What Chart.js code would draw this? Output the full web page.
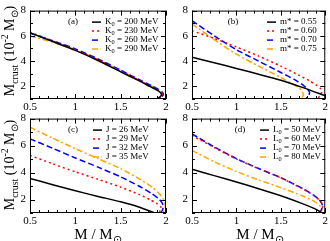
<!DOCTYPE html>
<html>
<head>
<meta charset="utf-8">
<script src="https://cdn.jsdelivr.net/npm/chart.js@4"></script>
<style>
  html, body { margin: 0; padding: 0; background: #fff; }
  #wrap { position: relative; width: 330px; height: 241px; overflow: hidden; font-family: "Liberation Serif", serif; color: #000; }
  canvas { position: absolute; }
  .ytitle { position: absolute; font-size: 14px; line-height: 14px; white-space: nowrap; transform: translate(-50%, -50%) rotate(-90deg); }
  .xtitle { position: absolute; font-size: 15px; line-height: 15px; white-space: nowrap; transform: translateX(-50%); }
  sub, sup { font-size: 70%; line-height: 0; }
</style>
</head>
<body>
<div id="wrap">
  <canvas id="pa" width="172" height="118" style="left:0;top:0"></canvas>
  <canvas id="pb" width="158" height="118" style="left:172px;top:0"></canvas>
  <canvas id="pc" width="172" height="133" style="left:0;top:108px"></canvas>
  <canvas id="pd" width="158" height="133" style="left:172px;top:108px"></canvas>
  <div class="ytitle" style="left:10px;top:51px">M<sub>crust</sub> (10<sup>-2</sup> M<sub>&#8857;</sub>)</div>
  <div class="ytitle" style="left:10px;top:165px">M<sub>crust</sub> (10<sup>-2</sup> M<sub>&#8857;</sub>)</div>
  <div class="xtitle" style="left:98px;top:227px">M / M<sub>&#8857;</sub></div>
  <div class="xtitle" style="left:260px;top:227px">M / M<sub>&#8857;</sub></div>
</div>
<script>
// axis ticks
const xTicks = [0.5, 1, 1.5, 2];
const yTicks = [2, 4, 6, 8];

// (a) incompressibility K0
const kLabels = ['K_0 = 200 MeV', 'K_0 = 230 MeV', 'K_0 = 260 MeV', 'K_0 = 290 MeV'];
const massK200 = [0.5, 0.75, 1.0, 1.25, 1.5, 1.7, 1.82, 1.9, 1.94, 1.95, 1.93, 1.89];
const crustK200 = [6.25, 5.55, 4.85, 4.05, 3.15, 2.45, 2.0, 1.7, 1.5, 1.32, 1.15, 1.0];
const massK230 = [0.5, 0.75, 1.0, 1.25, 1.5, 1.7, 1.83, 1.91, 1.95, 1.96, 1.94, 1.9];
const crustK230 = [6.3, 5.6, 4.9, 4.1, 3.2, 2.5, 2.02, 1.72, 1.52, 1.34, 1.16, 1.0];
const massK260 = [0.5, 0.75, 1.0, 1.25, 1.5, 1.7, 1.84, 1.92, 1.96, 1.97, 1.95, 1.91];
const crustK260 = [6.2, 5.62, 4.97, 4.17, 3.28, 2.55, 2.05, 1.74, 1.53, 1.35, 1.16, 1.0];
const massK290 = [0.5, 0.75, 1.0, 1.25, 1.5, 1.7, 1.84, 1.92, 1.96, 1.97, 1.95, 1.9];
const crustK290 = [6.0, 5.5, 4.9, 4.12, 3.25, 2.52, 2.02, 1.72, 1.5, 1.33, 1.15, 1.0];

// (b) effective mass m*
const mLabels = ['m* = 0.55', 'm* = 0.60', 'm* = 0.70', 'm* = 0.75'];
const massM055 = [0.5, 0.75, 1.0, 1.25, 1.5, 1.75, 2.0];
const crustM055 = [4.3, 3.87, 3.42, 2.96, 2.48, 1.9, 1.25];
const massM060 = [0.5, 0.75, 1.0, 1.25, 1.5, 1.7, 1.82, 1.9, 1.95, 1.96, 1.94, 1.91];
const crustM060 = [6.4, 5.8, 5.12, 4.4, 3.6, 2.9, 2.45, 2.1, 1.8, 1.55, 1.25, 1.0];
const massM070 = [0.5, 0.75, 1.0, 1.25, 1.5, 1.65, 1.74, 1.79, 1.82, 1.82, 1.8, 1.78];
const crustM070 = [7.2, 6.0, 4.9, 4.0, 3.1, 2.55, 2.15, 1.85, 1.6, 1.4, 1.18, 1.0];
const massM075 = [0.5, 0.75, 1.0, 1.25, 1.5, 1.62, 1.69, 1.73, 1.75, 1.75, 1.73];
const crustM075 = [6.95, 5.7, 4.55, 3.6, 2.7, 2.25, 1.95, 1.7, 1.45, 1.25, 1.0];

// (c) symmetry energy J
const jLabels = ['J = 26 MeV', 'J = 29 MeV', 'J = 32 MeV', 'J = 35 MeV'];
const massJ26 = [0.5, 0.75, 1.0, 1.25, 1.5, 1.7, 1.87];
const crustJ26 = [3.56, 3.1, 2.65, 2.23, 1.83, 1.45, 1.02];
const massJ29 = [0.5, 0.75, 1.0, 1.25, 1.5, 1.7, 1.82, 1.9, 1.94, 1.95, 1.93, 1.9];
const crustJ29 = [5.27, 4.65, 4.05, 3.5, 2.92, 2.38, 2.0, 1.7, 1.48, 1.3, 1.12, 1.0];
const massJ32 = [0.5, 0.75, 1.0, 1.25, 1.5, 1.7, 1.84, 1.92, 1.96, 1.97, 1.96, 1.94];
const crustJ32 = [6.5, 5.8, 5.08, 4.4, 3.68, 3.0, 2.45, 2.05, 1.72, 1.45, 1.2, 1.0];
const massJ35 = [0.5, 0.75, 1.0, 1.25, 1.5, 1.7, 1.85, 1.93, 1.97, 1.99, 1.99, 1.97];
const crustJ35 = [7.36, 6.55, 5.77, 5.03, 4.29, 3.55, 2.9, 2.4, 2.0, 1.7, 1.35, 1.05];

// (d) slope L0
const lLabels = ['L_0 = 50 MeV', 'L_0 = 60 MeV', 'L_0 = 70 MeV', 'L_0 = 80 MeV'];
const massL50 = [0.5, 0.75, 1.0, 1.25, 1.5, 1.75, 1.88, 1.94, 1.95];
const crustL50 = [4.24, 3.77, 3.3, 2.8, 2.28, 1.68, 1.32, 1.1, 1.0];
const massL60 = [0.5, 0.75, 1.0, 1.25, 1.5, 1.75, 1.87, 1.93, 1.96, 1.97, 1.95, 1.93];
const crustL60 = [6.75, 5.85, 5.0, 4.28, 3.6, 2.78, 2.3, 1.98, 1.72, 1.45, 1.18, 1.0];
const massL70 = [0.5, 0.75, 1.0, 1.25, 1.5, 1.75, 1.87, 1.93, 1.96, 1.97, 1.95, 1.93];
const crustL70 = [6.86, 5.9, 5.03, 4.3, 3.62, 2.8, 2.32, 2.0, 1.73, 1.46, 1.18, 1.0];
const massL80 = [0.5, 0.75, 1.0, 1.25, 1.5, 1.75, 1.88, 1.94, 1.96, 1.96, 1.95];
const crustL80 = [5.64, 4.8, 4.08, 3.45, 2.88, 2.25, 1.85, 1.55, 1.35, 1.18, 1.0];

(function () {
    // line styles shared by all panels: solid, dotted, dashed, dash-dot
    const styles = [
        { color: '#000000', dash: [] },
        { color: '#ff0000', dash: [2, 3] },
        { color: '#0000ff', dash: [6, 3] },
        { color: '#ffa500', dash: [6, 2.5, 2, 2.5] }
    ];
    const serif = '"Liberation Serif", "Times New Roman", serif';

    function pts(xs, ys) {
        return xs.map((x, i) => ({ x, y: ys[i] }));
    }

    // text with "_c" subscripts
    function drawRich(ctx, text, x, y, size) {
        const parts = text.split('_');
        ctx.font = size + 'px ' + serif;
        ctx.fillText(parts[0], x, y);
        x += ctx.measureText(parts[0]).width;
        for (let i = 1; i < parts.length; i++) {
            const sub = parts[i].charAt(0), rest = parts[i].slice(1);
            ctx.font = (size * 0.7) + 'px ' + serif;
            ctx.fillText(sub, x, y + size * 0.3);
            x += ctx.measureText(sub).width;
            ctx.font = size + 'px ' + serif;
            ctx.fillText(rest, x, y);
            x += ctx.measureText(rest).width;
        }
    }

    // frame, inward ticks, panel tag and legend
    const framePlugin = {
        id: 'frame',
        afterDraw(chart, args, opts) {
            const ctx = chart.ctx, a = chart.chartArea;
            const xs = chart.scales.x, ys = chart.scales.y;
            ctx.save();
            ctx.strokeStyle = '#000';
            ctx.lineWidth = 1;
            ctx.setLineDash([]);
            ctx.strokeRect(a.left + 0.5, a.top + 0.5, a.right - a.left - 1, a.bottom - a.top - 1);
            ctx.beginPath();
            for (let i = 0; i <= 15; i++) {
                const v = 0.5 + i * 0.1;
                const px = Math.round(xs.getPixelForValue(v)) + 0.5;
                const len = i % 5 === 0 ? 5 : 3;
                ctx.moveTo(px, a.bottom); ctx.lineTo(px, a.bottom - len);
                ctx.moveTo(px, a.top); ctx.lineTo(px, a.top + len);
            }
            for (let v = 1; v <= 8; v++) {
                const py = Math.round(ys.getPixelForValue(v)) + 0.5;
                const len = v % 2 === 0 ? 5 : 3;
                ctx.moveTo(a.left, py); ctx.lineTo(a.left + len, py);
                ctx.moveTo(a.right, py); ctx.lineTo(a.right - len, py);
            }
            ctx.stroke();

            ctx.fillStyle = '#000';
            ctx.textBaseline = 'middle';
            ctx.textAlign = 'center';
            ctx.font = '9px ' + serif;
            ctx.fillText(opts.tag, a.left + opts.tagX, a.top + 11.5);

            ctx.textAlign = 'left';
            chart.data.datasets.forEach((ds, i) => {
                const y = a.top + 11.5 + i * 9;
                ctx.beginPath();
                ctx.strokeStyle = ds.borderColor;
                ctx.lineWidth = 1.5;
                ctx.setLineDash(ds.borderDash);
                ctx.moveTo(a.left + opts.legX, y);
                ctx.lineTo(a.left + opts.legX + 9, y);
                ctx.stroke();
                drawRich(ctx, ds.label, a.left + opts.legX + 13, y, 9);
            });
            ctx.restore();
        }
    };

    function mkPanel(id, labels, series, tag, opt) {
        const datasets = series.map((s, i) => ({
            label: labels[i],
            data: pts(s[0], s[1]),
            borderColor: styles[i].color,
            borderDash: styles[i].dash,
            borderWidth: 1.5,
            backgroundColor: 'transparent',
            showLine: true,
            fill: false,
            tension: 0.2,
            pointRadius: 0
        }));
        const tickFont = { family: serif, size: 11 };
        return new Chart(document.getElementById(id), {
            type: 'scatter',
            data: { datasets },
            plugins: [framePlugin],
            options: {
                responsive: false,
                maintainAspectRatio: false,
                animation: false,
                layout: { autoPadding: false, padding: opt.pad },
                plugins: {
                    legend: { display: false },
                    tooltip: { enabled: false },
                    frame: { tag, tagX: opt.tagX, legX: opt.legX }
                },
                scales: {
                    x: {
                        type: 'linear', min: 0.5, max: 2,
                        grid: { display: false, drawTicks: false },
                        border: { display: false },
                        afterBuildTicks: s => { s.ticks = xTicks.map(v => ({ value: v })); },
                        afterFit: s => { s.height = opt.xh; },
                        ticks: { color: '#000', font: tickFont, padding: 2, maxRotation: 0, autoSkip: false, callback: v => String(v) }
                    },
                    y: {
                        type: 'linear', min: 1, max: 8,
                        grid: { display: false, drawTicks: false },
                        border: { display: false },
                        afterBuildTicks: s => { s.ticks = yTicks.map(v => ({ value: v })); },
                        afterFit: s => { s.width = opt.yw; },
                        ticks: { color: '#000', font: tickFont, padding: 4, autoSkip: false, callback: v => String(v) }
                    }
                }
            }
        });
    }

    mkPanel('pa', kLabels, [[massK200, crustK200], [massK230, crustK230], [massK260, crustK260], [massK290, crustK290]], '(a)',
        { pad: { left: 0, top: 4, right: 6, bottom: 0 }, yw: 30, xh: 19, tagX: 43, legX: 62 });
    mkPanel('pb', mLabels, [[massM055, crustM055], [massM060, crustM060], [massM070, crustM070], [massM075, crustM075]], '(b)',
        { pad: { left: 0, top: 4, right: 3, bottom: 0 }, yw: 20, xh: 19, tagX: 41, legX: 75 });
    mkPanel('pc', jLabels, [[massJ26, crustJ26], [massJ29, crustJ29], [massJ32, crustJ32], [massJ35, crustJ35]], '(c)',
        { pad: { left: 0, top: 10, right: 6, bottom: 0 }, yw: 30, xh: 28, tagX: 43, legX: 63 });
    mkPanel('pd', lLabels, [[massL50, crustL50], [massL60, crustL60], [massL70, crustL70], [massL80, crustL80]], '(d)',
        { pad: { left: 0, top: 10, right: 3, bottom: 0 }, yw: 20, xh: 28, tagX: 48, legX: 68 });
})();
</script>
</body>
</html>
